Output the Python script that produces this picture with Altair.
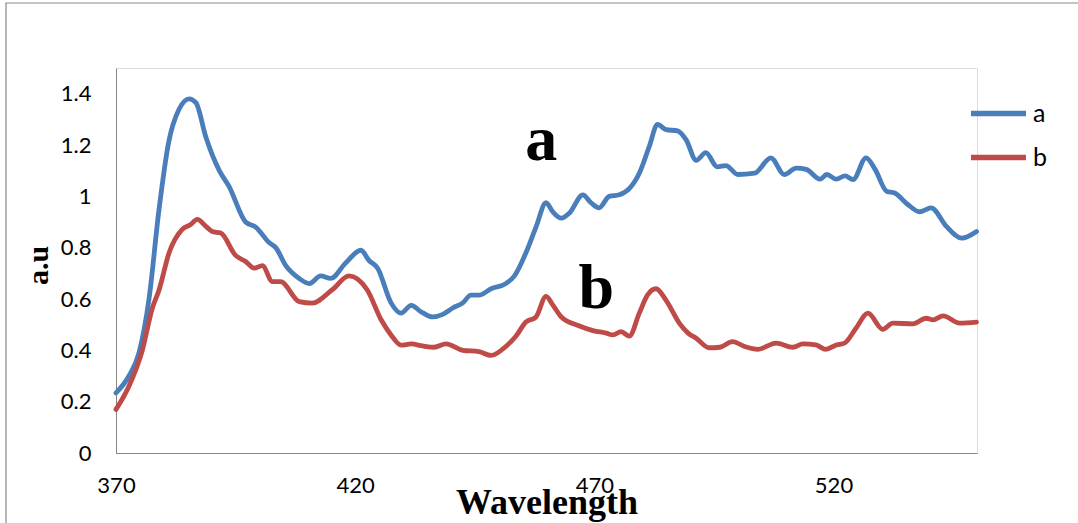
import altair as alt
import pandas as pd

# ---- data ----
a_wl = [370, 372.7, 374.8, 376.9, 379, 381, 383.2, 385.3, 386.7, 388.8, 391.6, 393.6, 397.1, 399.2, 402, 403.4,
        405.5, 408.3, 410.4, 412.8, 414.9, 418, 421.2, 422.9, 424.7, 427.5, 429.6, 431.7, 433.8, 436.2, 438.3,
        440.4, 442.5, 444.2, 445.9, 448.4, 451.5, 453.3, 455.7, 457.8, 459.9, 461.3, 463.1, 464.8, 467.6, 469.3,
        471, 473.1, 475.2, 477.3, 479.4, 481.5, 483.2, 485, 487.4, 489.2, 491.3, 493.3, 495.7, 497.5, 500, 503.5,
        506.9, 509.7, 512.2, 514.3, 517.2, 518.6, 520.6, 522.4, 524.1, 526.8, 528.7, 531.1, 532.8, 535.6, 538,
        540.4, 543.6, 546.8, 549.9]
a_val = [0.234, 0.30, 0.39, 0.60, 0.95, 1.21, 1.34, 1.38, 1.365, 1.23, 1.10, 1.04, 0.90, 0.88, 0.82, 0.80, 0.73,
         0.68, 0.66, 0.69, 0.68, 0.74, 0.79, 0.75, 0.72, 0.585, 0.545, 0.575, 0.55, 0.53, 0.54, 0.565, 0.585,
         0.615, 0.615, 0.64, 0.66, 0.69, 0.78, 0.88, 0.975, 0.94, 0.915, 0.935, 1.006, 0.975, 0.955, 1.0, 1.006,
         1.03, 1.09, 1.195, 1.28, 1.26, 1.255, 1.22, 1.14, 1.17, 1.115, 1.12, 1.085, 1.09, 1.15, 1.085, 1.11,
         1.105, 1.067, 1.085, 1.067, 1.08, 1.065, 1.15, 1.105, 1.02, 1.013, 0.967, 0.94, 0.955, 0.883, 0.837, 0.863]

b_wl = [370, 372.7, 375.5, 377.6, 379, 381.1, 383.8, 385.6, 387, 388.8, 390.1, 391.9, 395, 397.1, 398.9, 400.6,
        402.7, 404.4, 408.3, 411, 415.2, 418.7, 422.5, 425.4, 427.5, 429.6, 431.7, 434.1, 436.5, 439, 442.5,
        445.9, 448.4, 451.5, 453.6, 455.7, 457.8, 459.9, 461.3, 463.1, 466.9, 469.7, 472.5, 473.9, 475.6, 477.3,
        479.4, 481.1, 482.9, 485, 487.8, 489.6, 491.3, 494, 496.2, 498.9, 501.4, 504.2, 508, 511.5, 513.6, 516.3,
        518.4, 520.6, 522.3, 524.7, 527.2, 530.3, 532.4, 536.6, 539.4, 540.8, 542.9, 546.4, 549.9]
b_val = [0.17, 0.26, 0.40, 0.565, 0.635, 0.78, 0.87, 0.89, 0.91, 0.883, 0.863, 0.857, 0.77, 0.746, 0.72, 0.73,
         0.668, 0.668, 0.59, 0.584, 0.636, 0.69, 0.636, 0.52, 0.46, 0.42, 0.425, 0.417, 0.412, 0.425, 0.40, 0.395,
         0.38, 0.415, 0.455, 0.51, 0.53, 0.61, 0.577, 0.53, 0.495, 0.477, 0.467, 0.46, 0.473, 0.455, 0.545, 0.615,
         0.64, 0.595, 0.505, 0.467, 0.447, 0.41, 0.412, 0.434, 0.415, 0.404, 0.428, 0.412, 0.425, 0.421, 0.404,
         0.421, 0.428, 0.486, 0.545, 0.482, 0.506, 0.503, 0.525, 0.519, 0.534, 0.506, 0.51]

series_names = ["a", "b"]
series_colors = ["#4A7EBB", "#BE4B48"]
x_ticks = [370, 420, 470, 520]
y_ticks = [0, 0.2, 0.4, 0.6, 0.8, 1.0, 1.2, 1.4]

label_text = ["a", "b"]
label_wl = [458.9, 470.4]
label_val = [1.143, 0.566]

# ---- tables ----
df = pd.concat([
    pd.DataFrame({"wl": a_wl, "val": a_val, "series": "a"}),
    pd.DataFrame({"wl": b_wl, "val": b_val, "series": "b"}),
], ignore_index=True)
labels_df = pd.DataFrame({"t": label_text, "wl": label_wl, "val": label_val})

W, H = 861, 385
xscale = alt.Scale(domain=[370, 550], nice=False, zero=False)
yscale = alt.Scale(domain=[0, 1.5], nice=False)

lines = alt.Chart(df).mark_line(interpolate="monotone", strokeWidth=4.8, strokeCap="round",
                                strokeJoin="round").encode(
    x=alt.X("wl:Q", scale=xscale,
            axis=alt.Axis(values=x_ticks, format="d", grid=False, ticks=False, domainColor="#868686",
                          labelFont="Lato", labelFontSize=22, labelColor="#000000", labelPadding=22,
                          labelFlush=False,
                          title="Wavelength", titleFont="Liberation Serif", titleFontSize=36,
                          titleFontWeight="bold", titleColor="#000000", titleY=60,
                          titleBaseline="alphabetic")),
    y=alt.Y("val:Q", scale=yscale,
            axis=alt.Axis(values=y_ticks, format=".1~f", grid=False, ticks=False, domainColor="#868686",
                          labelFont="Lato", labelFontSize=22, labelColor="#000000", labelPadding=25,
                          title="a.u", titleFont="Liberation Serif", titleFontSize=30,
                          titleFontWeight="bold", titleColor="#000000", titleAngle=270, titleX=-69,
                          titleY=197, titleBaseline="alphabetic", titleAlign="center")),
    color=alt.Color("series:N", scale=alt.Scale(domain=series_names, range=series_colors), title=None,
                    legend=alt.Legend(orient="none", legendX=852, legendY=15, symbolType="stroke",
                                      symbolSize=3025, symbolStrokeWidth=5.5, labelFont="Lato",
                                      labelFontSize=25, labelColor="#000000", labelOffset=4,
                                      rowPadding=-20, padding=0)),
    order=alt.Order("wl:Q"),
)

texts = alt.Chart(labels_df).mark_text(font="Liberation Serif", fontWeight="bold", fontSize=64,
                                       baseline="alphabetic", align="center", color="#000000").encode(
    x=alt.X("wl:Q", scale=xscale),
    y=alt.Y("val:Q", scale=yscale),
    text="t:N",
)

frame = alt.Chart(pd.DataFrame({"k": [0]})).mark_rect(fill="transparent", stroke="#898989",
                                                       strokeWidth=1.2).encode(
    x=alt.value(-110), x2=alt.value(974), y=alt.value(-65), y2=alt.value(472)
)

chart = alt.layer(frame, lines, texts).properties(
    width=W, height=H,
    autosize=alt.AutoSizeParams(type="none"),
    padding={"left": 116, "top": 68, "right": 101, "bottom": 70},
).configure_view(stroke=None).configure(background="#ffffff")

chart.save("out.html", embed_options={"renderer": "svg", "actions": False})
